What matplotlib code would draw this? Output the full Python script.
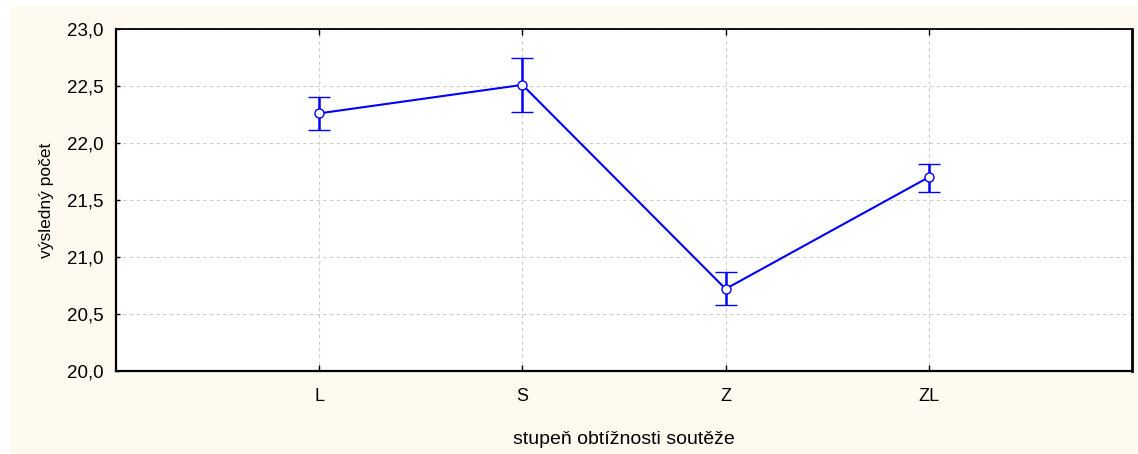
import matplotlib
matplotlib.use('Agg')
import matplotlib.pyplot as plt
from matplotlib.patches import Rectangle
from matplotlib.ticker import FuncFormatter

# data
categories = ['L', 'S', 'Z', 'ZL']
means = [22.26, 22.51, 20.72, 21.70]
err_low = [0.15, 0.24, 0.14, 0.13]
err_high = [0.14, 0.24, 0.15, 0.12]
y_ticks = [20.0, 20.5, 21.0, 21.5, 22.0, 22.5, 23.0]

FONT = ['Liberation Sans', 'DejaVu Sans']

W, H = 1138, 454
fig = plt.figure(figsize=(W / 100, H / 100), dpi=100)
fig.patch.set_facecolor('white')

# cream background panel (behind the axes)
fig.patches.append(Rectangle((10 / W, 0), 1 - 10 / W, (H - 6) / H,
                             transform=fig.transFigure, facecolor='#FFFAF0',
                             edgecolor='none', zorder=-10))

ax = fig.add_axes([116 / W, (H - 371) / H, (1132 - 116) / W, (371 - 29) / H])
ax.set_zorder(1)
ax.set_facecolor('white')

x = list(range(1, len(categories) + 1))
ax.errorbar(x, means, yerr=[err_low, err_high], color='#0000FF', linewidth=1.5,
            elinewidth=1.8, capsize=8, capthick=1.8, marker='o', markersize=6.5,
            markerfacecolor='white', markeredgecolor='#0000FF', markeredgewidth=1.0,
            zorder=3)

ax.set_xlim(0, 5)
ax.set_ylim(20.0, 23.0)
ax.set_xticks(x)
ax.set_xticklabels(categories, family=FONT, fontsize=13)
ax.set_yticks(y_ticks)
ax.yaxis.set_major_formatter(FuncFormatter(lambda v, p: f'{v:.1f}'.replace('.', ',')))
for lab in ax.get_yticklabels():
    lab.set_family(FONT)
    lab.set_fontsize(13.5)

ax.grid(True, color='#CCCCCC', linestyle=(0, (3, 3)), linewidth=0.8)
ax.set_axisbelow(True)

ax.tick_params(axis='x', direction='in', length=4, width=1, top=True, pad=12, color='black')
ax.tick_params(axis='y', direction='in', length=3, width=1, pad=9, color='black')

for side in ['left', 'bottom']:
    ax.spines[side].set_linewidth(1.6)
ax.spines['top'].set_linewidth(1.3)
ax.spines['right'].set_linewidth(2.0)

ax.set_ylabel('výsledný počet', family=FONT, fontsize=12.5, labelpad=9)
ax.set_xlabel('stupeň obtížnosti soutěže', family=FONT, fontsize=14, labelpad=19)

plt.savefig('out.png', dpi=100, facecolor=fig.get_facecolor())
plt.close()
